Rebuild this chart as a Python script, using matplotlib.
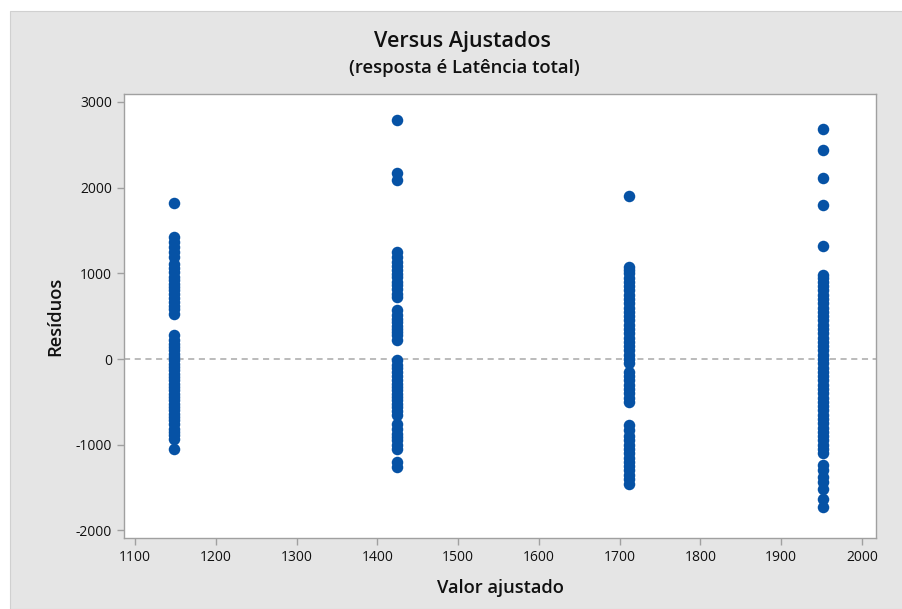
import numpy as np
import matplotlib.pyplot as plt
from matplotlib.patches import Rectangle

# fitted values (one per group)
fit_vals = [1148, 1424, 1711, 1952]

# residuals, one list per fitted value
res_1148 = [1825, 1420, 1360, 1307, 1250, 1190, 1113, 1060, 1016, 960, 918,
            870, 840, 800, 763, 710, 665, 620, 588, 529,
            276, 218, 180, 140, 100, 62, 20, -16, -55, -93, -130, -171, -210,
            -249, -290, -327, -365, -405, -440, -482, -520, -560, -600, -638,
            -680, -716, -760, -813, -850, -891, -930, -1054]
res_1424 = [2786, 2171, 2086, 1249, 1190, 1132, 1080, 1035, 990, 957, 899,
            860, 821, 763, 724,
            568, 510, 470, 432, 390, 354, 310, 276, 218,
            -16, -74, -110, -152, -200, -249, -290, -327, -365, -405, -440,
            -482, -520, -560, -610, -658,
            -755, -813, -872, -910, -949, -1000, -1047, -1202, -1261]
res_1711 = [1899, 1074, 1040, 1000, 950, 900, 850, 800, 750, 700, 650, 600,
            550, 500, 450, 400, 350, 300, 250, 200, 150, 100, 50, 0, -50,
            -150, -200, -250, -300, -350, -400, -450, -500, -774, -830, -900,
            -950, -1000, -1050, -1100, -1150, -1200, -1250, -1300, -1350,
            -1400, -1455]
res_1952 = [2681, 2444, 2117, 1794, 1315, 977, 940, 900, 850, 800, 750, 700,
            650, 600, 550, 500, 450, 400, 350, 300, 250, 200, 150, 100, 50, 0,
            -50, -100, -150, -200, -250, -300, -350, -400, -450, -500, -550,
            -600, -650, -700, -750, -800, -850, -900, -950, -1000, -1050,
            -1100, -1241, -1300, -1377, -1436, -1514, -1630, -1728]
residuals = [res_1148, res_1424, res_1711, res_1952]

plt.rcParams['font.family'] = ['Open Sans', 'DejaVu Sans']
plt.rcParams['axes.unicode_minus'] = False

fig = plt.figure(figsize=(9.03, 6.09), dpi=100)
fig.patch.set_facecolor('white')
fig.patches.append(Rectangle((10 / 903, 0), 1, 1 - 11 / 609, transform=fig.transFigure,
                             facecolor='#e5e5e5', edgecolor='#d0d0d0', lw=0.8, zorder=-10))

ax = fig.add_axes([124 / 903, 1 - 538 / 609, (876 - 124) / 903, (538 - 94) / 609])
ax.set_facecolor('white')

blue = '#0652a5'
for fv, res in zip(fit_vals, residuals):
    ax.plot([fv] * len(res), res, 'o', color=blue, markersize=8.3, markeredgewidth=0)

ax.axhline(0, color='#a8a8a8', lw=1.1, ls=(0, (4, 3)), zorder=0)

ax.set_xlim(1086.4, 2017.3)
ax.set_ylim(-2089, 3093)
ax.set_xticks(np.arange(1100, 2001, 100))
ax.set_yticks([-2000, -1000, 0, 1000, 2000, 3000])

for sp in ax.spines.values():
    sp.set_color('#a0a0a0')
    sp.set_linewidth(1.0)
ax.tick_params(direction='out', length=5, width=1, color='#a0a0a0',
               labelsize=10, labelcolor='#111111')
for lab in ax.get_xticklabels() + ax.get_yticklabels():
    lab.set_fontweight('medium')

ax.set_xlabel('Valor ajustado', fontsize=13.2, color='#111111', labelpad=10,
              fontweight='semibold')
ax.set_ylabel('Resíduos', fontsize=13.2, color='#111111', labelpad=8,
              fontweight='semibold')

fig.text(462 / 903, 1 - 42 / 609, 'Versus Ajustados', ha='center', va='center',
         fontsize=15.5, color='#111111', fontweight='semibold')
fig.text(464 / 903, 1 - 68 / 609, '(resposta é Latência total)', ha='center',
         va='center', fontsize=13.3, color='#111111', fontweight='semibold')

fig.savefig('out.png', dpi=100, facecolor=fig.get_facecolor())
